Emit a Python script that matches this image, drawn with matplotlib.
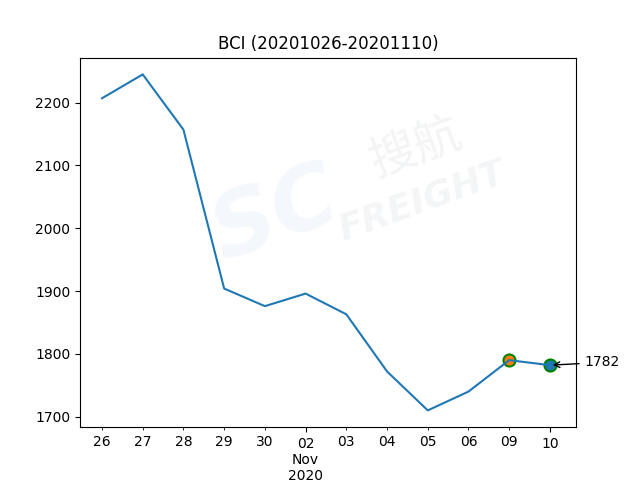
import matplotlib.pyplot as plt
from matplotlib.ticker import FixedLocator, FixedFormatter

days = ['26', '27', '28', '29', '30', '02', '03', '04', '05', '06', '09', '10']
bci = [2207, 2245, 2157, 1904, 1876, 1896, 1863, 1772, 1710, 1740, 1790, 1782]
major_idx = [5, 11]
major_labels = ['02\nNov\n2020', '10']


def main():
    fig, ax = plt.subplots(figsize=(6.4, 4.8), dpi=100)
    x = list(range(len(days)))

    # faint watermark
    fig.text(0.43, 0.55, 'SC', fontsize=64, color='#f4f8fc',
             rotation=20, fontweight='bold', style='italic', zorder=0,
             ha='center', va='center')
    fig.text(0.65, 0.69, '搜航', fontsize=34, color='#f3f4f5', rotation=20,
             family=['Noto Sans CJK SC', 'DejaVu Sans'], zorder=0,
             ha='center', va='center')
    fig.text(0.66, 0.58, 'FREIGHT', fontsize=26, color='#f4f5f6', rotation=20,
             fontweight='bold', style='italic', zorder=0,
             ha='center', va='center')

    ax.plot(x, bci, color='tab:blue', zorder=2)
    ax.scatter([x[-2]], [bci[-2]], s=75, color='tab:orange',
               edgecolors='green', linewidths=1.5, zorder=1)
    ax.scatter([x[-1]], [bci[-1]], s=75, color='tab:blue',
               edgecolors='green', linewidths=1.5, zorder=1)
    ax.annotate(str(bci[-1]), xy=(x[-1], bci[-1]), xytext=(25, 2),
                textcoords='offset points', va='center',
                arrowprops=dict(arrowstyle='->', color='black'))

    minor_idx = [i for i in x if i not in major_idx]
    ax.xaxis.set_major_locator(FixedLocator(major_idx))
    ax.xaxis.set_major_formatter(FixedFormatter(major_labels))
    ax.xaxis.set_minor_locator(FixedLocator(minor_idx))
    ax.xaxis.set_minor_formatter(FixedFormatter([days[i] for i in minor_idx]))
    ax.set_xlim(-0.54, 11.64)
    ax.patch.set_alpha(0)

    ax.set_title('BCI (20201026-20201110)')
    plt.savefig('out.png')


main()
